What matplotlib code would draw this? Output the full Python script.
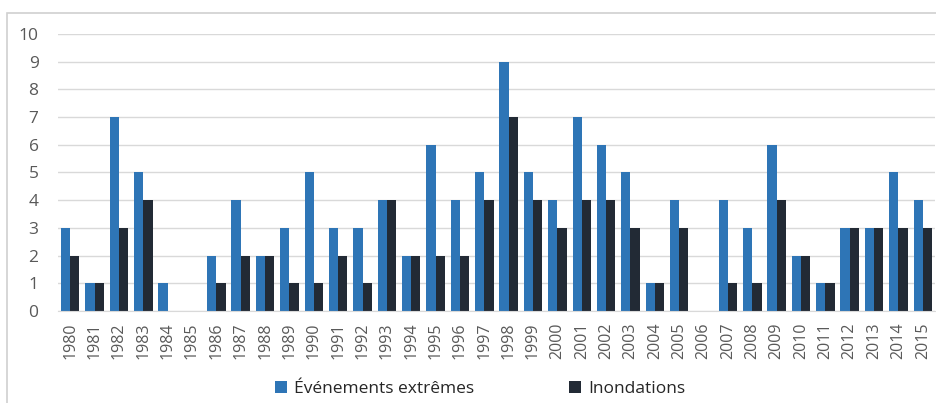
import matplotlib.pyplot as plt
from matplotlib.patches import Rectangle
import numpy as np

plt.rcParams['font.family'] = ['Open Sans', 'DejaVu Sans']

years = [str(y) for y in range(1980, 2016)]
extremes = [3, 1, 7, 5, 1, 0, 2, 4, 2, 3, 5, 3, 3, 4, 2, 6, 4, 5, 9, 5,
            4, 7, 6, 5, 1, 4, 0, 4, 3, 6, 2, 1, 3, 3, 5, 4]
floods = [2, 1, 3, 4, 0, 0, 1, 2, 2, 1, 1, 2, 1, 4, 2, 2, 2, 4, 7, 4,
          3, 4, 4, 3, 1, 3, 0, 1, 1, 4, 2, 1, 3, 3, 3, 3]

BLUE = '#2E75B6'
DARK = '#222A35'
GRID = '#D9D9D9'
TEXT = '#595959'

fig = plt.figure(figsize=(9.37, 4.03), dpi=100)
# chart frame (cut by the image edges)
fig.patches.append(Rectangle((7 / 937, -0.05), 1.1, 1 - 13 / 403 + 0.05,
                             transform=fig.transFigure, fill=False,
                             edgecolor='#D0D0D0', lw=1.2))

ax = fig.add_axes([58 / 937, 1 - 311 / 403, 877 / 937, 277 / 403])
x = np.arange(len(years))
w = 0.38
ax.bar(x - w / 2, extremes, w, color=BLUE, label='Événements extrêmes')
ax.bar(x + w / 2, floods, w, color=DARK, label='Inondations')

ax.set_xlim(-0.5, len(years) - 0.5)
ax.set_ylim(0, 10)
ax.set_yticks(range(0, 11))
ax.set_xticks(x)
ax.set_xticklabels(years, rotation=90)
ax.tick_params(axis='both', length=0, colors=TEXT, labelsize=11.5)
ax.tick_params(axis='y', pad=14, labelsize=12.5)
ax.tick_params(axis='x', pad=8)
ax.grid(axis='y', color=GRID, lw=1)
ax.set_axisbelow(True)
for s in ['top', 'right', 'left']:
    ax.spines[s].set_visible(False)
ax.spines['bottom'].set_color(GRID)

fig.legend(loc='center', bbox_to_anchor=(480 / 937, 1 - 389 / 403), ncol=2,
           frameon=False, handlelength=0.7, handleheight=0.7,
           handletextpad=0.4, columnspacing=5.5, fontsize=12.5,
           labelcolor='#262626')

fig.savefig('out.png', dpi=100)
